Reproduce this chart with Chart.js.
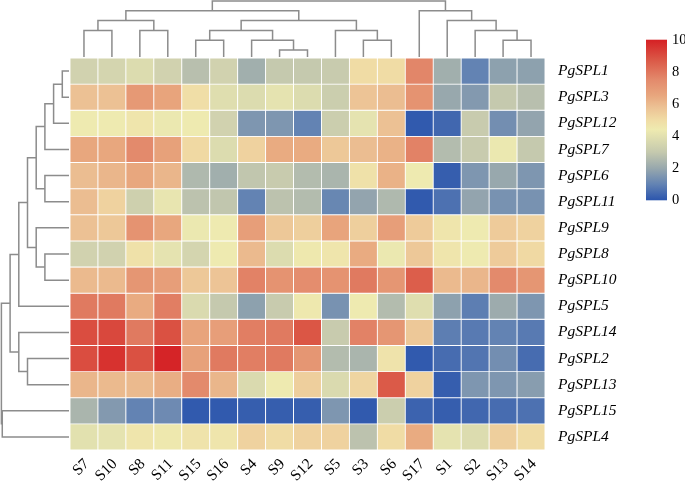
<!DOCTYPE html>
<html>
<head>
<meta charset="utf-8">
<script src="https://cdn.jsdelivr.net/npm/chart.js@4.4.1/dist/chart.umd.min.js"></script>
<style>
    html, body { margin: 0; padding: 0; background: #fff; }
    #wrap { position: relative; width: 685px; height: 481px; }
    #heat { position: absolute; left: 0; top: 0; }
    #cbar { position: absolute; left: 640px; top: 26px; }
</style>
</head>
<body>
<div id="wrap">
    <canvas id="heat" width="685" height="481"></canvas>
    <canvas id="cbar" width="45" height="188"></canvas>
</div>
<script>
// columns (samples) and rows (genes), in clustered order
const colLabels = ['S7', 'S10', 'S8', 'S11', 'S15', 'S16', 'S4', 'S9', 'S12', 'S5', 'S3', 'S6', 'S17', 'S1', 'S2', 'S13', 'S14'];
const rowLabels = ['PgSPL1', 'PgSPL3', 'PgSPL12', 'PgSPL7', 'PgSPL6', 'PgSPL11', 'PgSPL9', 'PgSPL8', 'PgSPL10', 'PgSPL5', 'PgSPL14', 'PgSPL2', 'PgSPL13', 'PgSPL15', 'PgSPL4'];

// expression values, one row per gene, columns in colLabels order
const expr = [
    [3.4, 3.5, 3.8, 3.4, 2.7, 3.4, 2.2, 3.0, 3.0, 3.1, 5.0, 5.0, 7.6, 2.2, 1.0, 1.8, 1.8], // PgSPL1
    [5.8, 5.8, 7.0, 6.6, 4.9, 3.9, 3.8, 4.1, 3.8, 3.2, 5.7, 5.9, 7.2, 2.0, 1.6, 3.0, 2.7], // PgSPL3
    [4.4, 4.4, 4.6, 4.3, 4.4, 3.4, 1.5, 1.5, 1.0, 3.2, 4.1, 5.8, 0.1, 0.4, 3.1, 1.3, 1.9], // PgSPL12
    [6.5, 6.5, 7.5, 6.7, 5.1, 3.8, 5.3, 6.4, 6.4, 5.6, 5.9, 6.2, 7.7, 2.6, 3.1, 4.3, 3.0], // PgSPL7
    [5.9, 6.1, 6.5, 6.1, 2.5, 2.2, 2.9, 3.1, 2.6, 2.4, 4.8, 6.2, 4.4, 0.2, 1.5, 2.0, 1.5], // PgSPL6
    [5.9, 5.3, 3.3, 4.2, 2.8, 2.9, 1.0, 2.8, 2.6, 1.1, 1.9, 2.5, 0.1, 0.6, 1.9, 1.4, 1.4], // PgSPL11
    [5.8, 5.6, 7.2, 6.5, 4.3, 4.4, 6.8, 5.6, 5.4, 6.6, 5.4, 6.8, 5.5, 4.6, 4.4, 5.5, 5.3], // PgSPL9
    [3.4, 3.4, 4.8, 4.1, 3.5, 4.4, 6.0, 3.8, 4.5, 4.6, 6.4, 4.3, 5.6, 4.6, 4.4, 5.5, 5.1], // PgSPL8
    [6.0, 6.0, 7.1, 6.8, 5.6, 5.7, 7.7, 7.2, 7.4, 7.2, 7.9, 7.1, 8.6, 6.0, 6.1, 7.5, 7.1], // PgSPL10
    [7.9, 7.9, 6.4, 7.8, 3.7, 3.0, 1.8, 3.1, 4.5, 1.4, 4.4, 2.6, 3.9, 1.8, 0.9, 2.1, 1.5], // PgSPL5
    [9.0, 9.1, 7.9, 8.9, 6.6, 6.8, 7.8, 7.9, 8.8, 3.1, 7.7, 7.1, 5.6, 0.9, 0.8, 1.0, 0.8], // PgSPL14
    [9.0, 9.6, 8.9, 9.9, 6.7, 7.9, 7.8, 7.9, 7.1, 2.6, 2.4, 4.7, 0.1, 0.5, 0.7, 1.3, 0.5], // PgSPL2
    [6.1, 6.0, 6.0, 6.3, 7.5, 6.1, 3.7, 4.4, 5.4, 3.7, 5.2, 8.7, 5.3, 0.2, 1.5, 1.5, 1.7], // PgSPL13
    [2.4, 1.6, 1.0, 1.2, 0.1, 0.1, 0.2, 0.2, 0.2, 1.5, 0.1, 3.2, 0.3, 0.2, 0.4, 0.5, 0.6], // PgSPL15
    [4.0, 4.1, 4.6, 4.5, 4.7, 4.6, 5.3, 5.0, 5.3, 5.3, 2.8, 5.0, 6.4, 4.1, 3.8, 5.4, 5.0]  // PgSPL4
];

// dendrograms, hclust style: negative = leaf (-(index+1)), positive = earlier merge (1-based), then height level
const colMerges = [
    [-1, -2, 3], [-3, -4, 3], [1, 2, 4],
    [-5, -6, 2], [-8, -9, 1], [-7, 5, 2], [4, 6, 3],
    [-11, -12, 2], [-10, 8, 3], [7, 9, 4], [3, 10, 5],
    [-16, -17, 2], [-15, 12, 3], [-14, 13, 4], [-13, 14, 5],
    [11, 15, 6]
];
const rowMerges = [
    [-1, -2, 1], [1, -3, 2], [2, -4, 3], [-5, -6, 3], [3, 4, 4],
    [-8, -9, 3], [-7, 6, 4], [5, 7, 5], [8, -10, 6],
    [-12, -13, 5], [-11, 10, 6], [9, 11, 7],
    [-14, -15, 7.9], [12, 13, 8]
];

const cbarTicks = [0, 2, 4, 6, 8, 10];

// colour ramp blue -> pale yellow -> red
const colorStops = [
    [0, '#2b55ad'], [1, '#6383b3'], [2, '#98a8ad'], [3, '#c5c9ae'],
    [4.4, '#eeeab0'], [5, '#f0dca5'], [5.8, '#ecc194'], [6.5, '#e8a77e'],
    [7.5, '#e38a6c'], [8.7, '#db5a48'], [10, '#d52024']
];

const serif = "'Liberation Serif', 'Times New Roman', serif";

function hexRgb(hex) {
    const c = parseInt(hex.substring(1), 16);
    return [(c >> 16) & 255, (c >> 8) & 255, c & 255];
}

function valueColor(v) {
    if (v <= colorStops[0][0]) return colorStops[0][1];
    for (let i = 1; i < colorStops.length; i++) {
        if (v <= colorStops[i][0]) {
            const [v0, h0] = colorStops[i - 1];
            const [v1, h1] = colorStops[i];
            const t = (v - v0) / (v1 - v0);
            const a = hexRgb(h0), b = hexRgb(h1);
            return 'rgb(' + a.map((x, k) => Math.round(x + (b[k] - x) * t)).join(',') + ')';
        }
    }
    return colorStops[colorStops.length - 1][1];
}

function drawDendro(ctx, merges, leafPx, levelPx, basePx, toXY) {
    const nodes = [];
    const at = id => id < 0 ? { p: leafPx(-id - 1), h: basePx } : nodes[id - 1];
    merges.forEach(([a, b, lvl]) => {
        const A = at(a), B = at(b), hp = levelPx(lvl);
        ctx.beginPath();
        ctx.moveTo(...toXY(A.p, A.h));
        ctx.lineTo(...toXY(A.p, hp));
        ctx.lineTo(...toXY(B.p, hp));
        ctx.lineTo(...toXY(B.p, B.h));
        ctx.stroke();
        nodes.push({ p: (A.p + B.p) / 2, h: hp });
    });
}

const dendroPlugin = {
    id: 'dendro',
    afterDraw(chart) {
        const { ctx, chartArea, scales } = chart;
        ctx.save();
        ctx.strokeStyle = '#8c8c8c';
        ctx.lineWidth = 1.5;
        // top: columns
        drawDendro(ctx, colMerges,
            i => scales.x.getPixelForValue(i),
            lvl => chartArea.top - 8 - (lvl - 1) * 9.8,
            chartArea.top - 1,
            (p, h) => [p, h]);
        // left: rows
        drawDendro(ctx, rowMerges,
            i => scales.y.getPixelForValue(i + 0.5),
            lvl => chartArea.left + 1 - lvl * 8.7,
            chartArea.left - 1,
            (p, h) => [h, p]);
        ctx.restore();
    }
};

const datasets = rowLabels.map((name, r) => ({
    label: name,
    data: colLabels.map(() => [r, r + 1]),
    backgroundColor: expr[r].map(valueColor),
    borderColor: '#ffffff',
    borderWidth: 0.8,
    borderSkipped: false,
    grouped: false,
    barPercentage: 1,
    categoryPercentage: 1
}));

new Chart(document.getElementById('heat'), {
    type: 'bar',
    data: { labels: colLabels, datasets: datasets },
    options: {
        responsive: false,
        animation: false,
        layout: { padding: { left: 70, top: 58, right: 0, bottom: 0 } },
        plugins: { legend: { display: false }, tooltip: { enabled: false } },
        scales: {
            x: {
                type: 'category',
                position: 'bottom',
                grid: { display: false, drawTicks: false },
                border: { display: false },
                afterFit: s => { s.height = 31; },
                ticks: {
                    autoSkip: false,
                    minRotation: 45,
                    maxRotation: 45,
                    padding: 5,
                    labelOffset: 3,
                    color: '#000',
                    font: { family: serif, size: 15.5 }
                }
            },
            y: {
                type: 'linear',
                position: 'right',
                reverse: true,
                min: 0,
                max: rowLabels.length,
                grid: { display: false, drawTicks: false },
                border: { display: false },
                afterFit: s => { s.width = 140; },
                afterBuildTicks: s => { s.ticks = rowLabels.map((_, i) => ({ value: i + 0.5 })); },
                ticks: {
                    padding: 13,
                    color: '#000',
                    font: { family: serif, size: 15.5, style: 'italic' },
                    callback: v => rowLabels[Math.floor(v)]
                }
            }
        }
    },
    plugins: [dendroPlugin]
});

// colour key
const gradientPlugin = {
    id: 'gradient',
    beforeDatasetsDraw(chart) {
        const { ctx, chartArea, scales } = chart;
        const y = scales.y;
        const g = ctx.createLinearGradient(0, y.getPixelForValue(0), 0, y.getPixelForValue(10));
        colorStops.forEach(([v, c]) => g.addColorStop(v / 10, c));
        ctx.save();
        ctx.fillStyle = g;
        ctx.fillRect(chartArea.left, y.getPixelForValue(10), chartArea.right - chartArea.left,
            y.getPixelForValue(0) - y.getPixelForValue(10));
        ctx.restore();
    }
};

new Chart(document.getElementById('cbar'), {
    type: 'bar',
    data: { labels: [''], datasets: [{ data: [] }] },
    options: {
        responsive: false,
        animation: false,
        layout: { padding: { left: 6, top: 5, bottom: 4, right: 0 } },
        plugins: { legend: { display: false }, tooltip: { enabled: false } },
        scales: {
            x: { display: false },
            y: {
                position: 'right',
                min: 0,
                max: 10,
                grid: { display: false, drawTicks: false },
                border: { display: false },
                afterFit: s => { s.width = 18; },
                afterBuildTicks: s => { s.ticks = cbarTicks.map(v => ({ value: v })); },
                ticks: {
                    padding: 5,
                    color: '#000',
                    font: { family: serif, size: 14.5 }
                }
            }
        }
    },
    plugins: [gradientPlugin]
});
</script>
</body>
</html>
